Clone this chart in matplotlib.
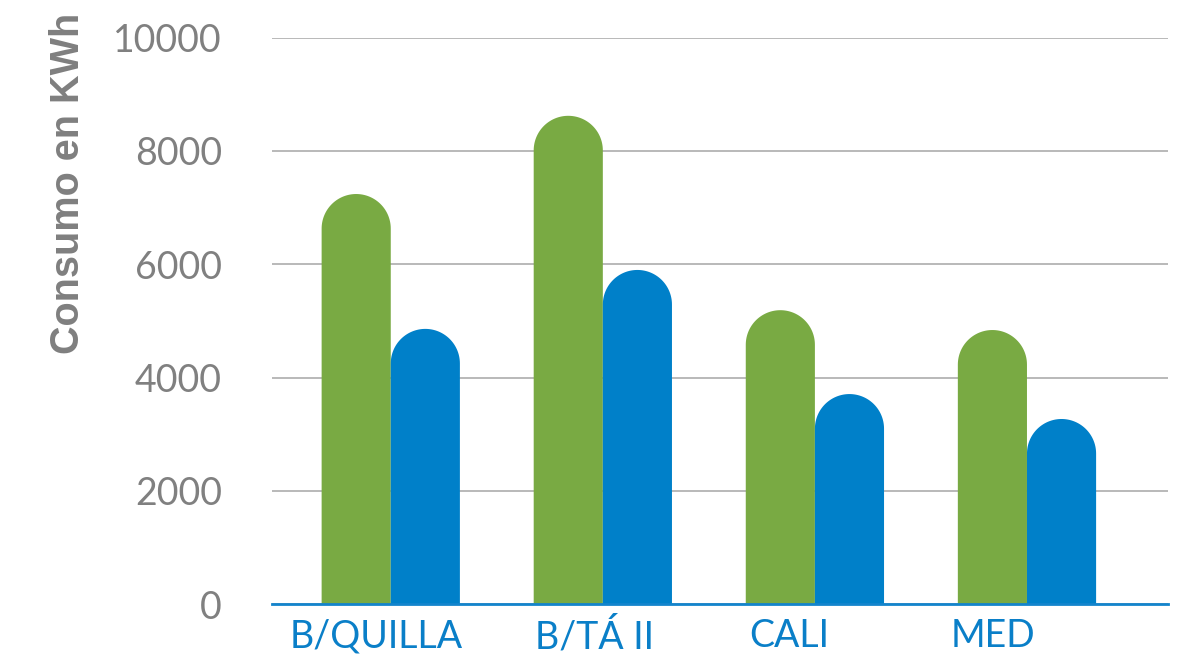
import numpy as np
import matplotlib.pyplot as plt
from matplotlib.patches import Polygon

# --- data ---
categories = ["B/QUILLA", "B/TÁ II", "CALI", "MED"]
serie_verde = [7240, 8620, 5190, 4840]
serie_azul = [4860, 5900, 3710, 3270]
yticks = [0, 2000, 4000, 6000, 8000, 10000]

GREEN = "#79aa43"
BLUE = "#0080c9"
GREY = "#808080"

fig = plt.figure(figsize=(11.78, 6.59), dpi=100)
ax = fig.add_axes([272 / 1178, 1 - 604.3 / 659, 896 / 1178, 566.7 / 659])
ax.set_xlim(-0.56, 3.665)
ax.set_ylim(0, 10000)

width = 0.326
x = np.arange(len(categories))


def rounded_bar(ax, x0, w, h, color):
    # bar with a half-round cap; cap radius taken in pixels so it stays round
    p0 = ax.transData.transform((0, 0))
    p1 = ax.transData.transform((w / 2, 1))
    ry = (p1[0] - p0[0]) / (p1[1] - p0[1])
    ry = min(ry, h)
    t = np.linspace(0, np.pi, 60)
    cx = x0 + w / 2
    arc = np.column_stack([cx + (w / 2) * np.cos(t), (h - ry) + ry * np.sin(t)])
    pts = np.vstack([[x0 + w, 0], arc, [x0, 0]])
    ax.add_patch(Polygon(pts, closed=True, facecolor=color, edgecolor="none",
                         zorder=2))


for xi, g, b in zip(x, serie_verde, serie_azul):
    rounded_bar(ax, xi - width, width, g, GREEN)
    rounded_bar(ax, xi, width, b, BLUE)

ax.set_yticks(yticks)
ax.set_yticklabels([str(v) for v in yticks], fontsize=27, color=GREY,
                   family="Lato")
ax.yaxis.grid(True, color="#a6a6a6", lw=1.1, zorder=0)
ax.set_axisbelow(True)
ax.tick_params(axis="y", length=0, pad=36)

label_offset = [-0.068, -0.04, -0.12, -0.16]
ax.set_xticks(x + np.array(label_offset))
ax.set_xticklabels(categories, fontsize=27, color="#0a7fc8", family="Lato")
ax.tick_params(axis="x", length=0, pad=10)

for s in ["top", "right", "left"]:
    ax.spines[s].set_visible(False)
ax.spines["bottom"].set_color("#1384cc")
ax.spines["bottom"].set_linewidth(2)
ax.spines["bottom"].set_zorder(3)

fig.text(68 / 1178, 1 - 183 / 659, "Consumo en KWh", rotation=90,
         ha="center", va="center", fontsize=28.5, fontweight="bold",
         color="#7f7f7f", family="Liberation Sans")

fig.savefig("out.png", dpi=100)
